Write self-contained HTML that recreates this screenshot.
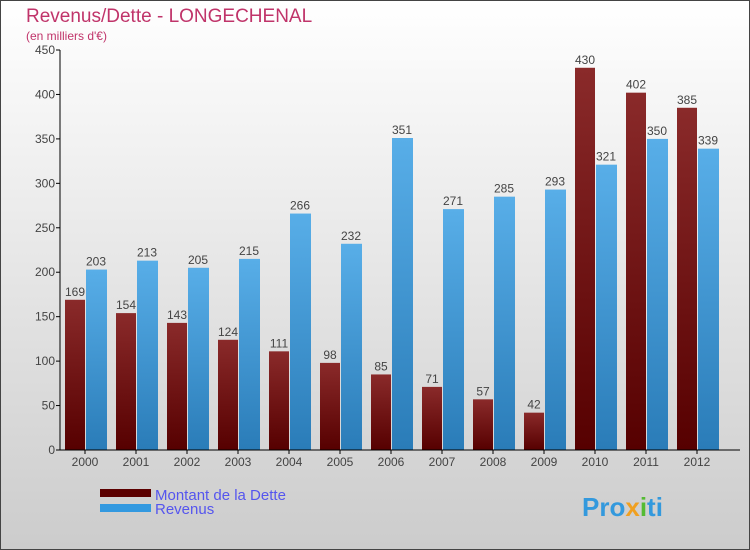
<!DOCTYPE html>
<html><head><meta charset="utf-8"><style>
body{margin:0}
svg{display:block;font-family:"Liberation Sans",sans-serif}
</style></head><body>
<svg id="c" width="750" height="550">
<defs>
<linearGradient id="bg" x1="0" y1="0" x2="0" y2="1"><stop offset="0" stop-color="#ffffff"/><stop offset="1" stop-color="#cccccc"/></linearGradient>
<linearGradient id="gd" x1="0" y1="0" x2="0" y2="1"><stop offset="0" stop-color="#8a2a2a"/><stop offset="1" stop-color="#560000"/></linearGradient>
<linearGradient id="gr" x1="0" y1="0" x2="0" y2="1"><stop offset="0" stop-color="#58aee8"/><stop offset="1" stop-color="#2a7cb8"/></linearGradient>
</defs>
<rect x="0.5" y="0.5" width="749" height="549" fill="url(#bg)" stroke="#444"/>
<text x="26" y="22" font-size="19" fill="#c0346a">Revenus/Dette - LONGECHENAL</text>
<text x="26" y="40" font-size="12" fill="#c0346a">(en milliers d'€)</text>
<g id="plot"></g>
<g>
<rect x="100" y="489" width="51" height="8" fill="#5c0000"/>
<text x="155" y="500" font-size="15" fill="#5555ee">Montant de la Dette</text>
<rect x="100" y="504" width="51" height="8" fill="#3399e0"/>
<text x="155" y="514" font-size="15" fill="#5555ee">Revenus</text>
</g>
<text x="582" y="516" font-size="26" font-weight="bold" fill="#3399dd">Pro<tspan fill="#f0a020">x</tspan><tspan fill="#55bb33">i</tspan>ti</text>
</svg>
<script>
const years=["2000","2001","2002","2003","2004","2005","2006","2007","2008","2009","2010","2011","2012"];
const dette=[169,154,143,124,111,98,85,71,57,42,430,402,385];
const revenus=[203,213,205,215,266,232,351,271,285,293,321,350,339];
const ticks=[0,50,100,150,200,250,300,350,400,450];
const NS="http://www.w3.org/2000/svg";
const g=document.getElementById('plot');
const y=v=>450-v*400/450;
const x=i=>85+i*51;
function el(t,a,txt){const e=document.createElementNS(NS,t);for(const k in a)e.setAttribute(k,a[k]);if(txt!=null)e.textContent=txt;g.appendChild(e);return e;}
ticks.forEach(t=>{
 const l=el('line',{x1:56,x2:60,y1:y(t),y2:y(t),stroke:'#000'});
 
 
 const tx=el('text',{x:55,y:y(t)+4,'font-size':12,fill:'#444','text-anchor':'end'},t);
 
 
});
years.forEach((yr,i)=>{
 const c=x(i);
 const b1=el('rect',{x:c-20,y:y(dette[i]),width:20,height:450-y(dette[i]),fill:'url(#gd)'});
 
 
 const b2=el('rect',{x:c+1,y:y(revenus[i]),width:21,height:450-y(revenus[i]),fill:'url(#gr)'});
 
 
 const l1=el('text',{x:c-10,y:y(dette[i])-4,'font-size':12,fill:'#444','text-anchor':'middle'},dette[i]);
 
 
 const l2=el('text',{x:c+11,y:y(revenus[i])-4,'font-size':12,fill:'#444','text-anchor':'middle'},revenus[i]);
 
 
 const tk=el('line',{x1:c,x2:c,y1:450,y2:454,stroke:'#000'});
 
 
 const xl=el('text',{x:c,y:466,'font-size':12,fill:'#444','text-anchor':'middle'},yr);
 
 
});
const ax=el('line',{x1:60,x2:60,y1:50,y2:450,stroke:'#000'});


const bx=el('line',{x1:60,x2:740,y1:450,y2:450,stroke:'#000'});


</script>
</body></html>
